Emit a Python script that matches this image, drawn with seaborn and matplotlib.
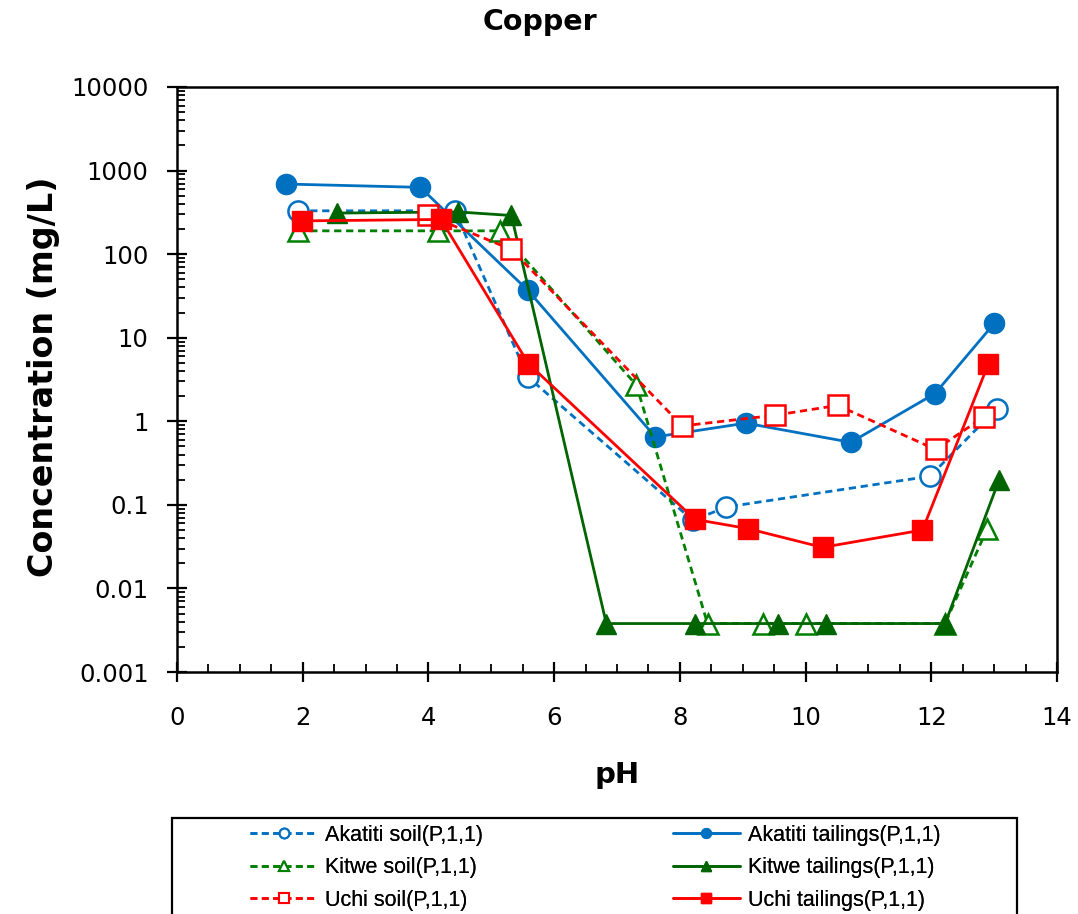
import matplotlib
matplotlib.use("Agg")
import matplotlib.pyplot as plt
import seaborn as sns
import pandas as pd
from matplotlib import font_manager
from matplotlib.lines import Line2D
from matplotlib.patches import Rectangle
from matplotlib.ticker import MultipleLocator, LogLocator, NullFormatter, FuncFormatter

# data (pH vs Cu concentration, mg/L)
ph_akatiti_soil = [1.93, 4.42, 5.58, 8.21, 8.73, 11.98, 13.04]
cu_akatiti_soil = [330, 330, 3.4, 0.065, 0.094, 0.22, 1.42]

ph_akatiti_tail = [1.73, 3.87, 5.58, 7.61, 9.05, 10.72, 12.06, 13.0]
cu_akatiti_tail = [690, 630, 37, 0.65, 0.95, 0.56, 2.15, 14.8]

ph_kitwe_soil = [1.93, 4.15, 5.14, 7.31, 8.44, 9.32, 10.01, 12.22, 12.89]
cu_kitwe_soil = [190, 190, 190, 2.7, 0.0038, 0.0038, 0.0038, 0.0038, 0.052]

ph_kitwe_tail = [2.54, 4.47, 5.32, 6.83, 8.24, 9.56, 10.33, 12.22, 13.08]
cu_kitwe_tail = [310, 320, 290, 0.0038, 0.0038, 0.0038, 0.0038, 0.0038, 0.2]

ph_uchi_soil = [4.0, 5.32, 8.04, 9.51, 10.51, 12.07, 12.84]
cu_uchi_soil = [290, 114, 0.88, 1.18, 1.55, 0.46, 1.13]

ph_uchi_tail = [1.99, 4.2, 5.59, 8.24, 9.08, 10.27, 11.86, 12.91]
cu_uchi_tail = [250, 260, 4.9, 0.067, 0.052, 0.031, 0.050, 4.9]

labels = ["Akatiti soil(P,1,1)", "Akatiti tailings(P,1,1)",
          "Kitwe soil(P,1,1)", "Kitwe tailings(P,1,1)",
          "Uchi soil(P,1,1)", "Uchi tailings(P,1,1)"]

BLUE = "#0070C0"
GREEN_S = "#008000"
GREEN_T = "#006400"
RED = "#FF0000"

# (x, y, color, marker, open marker, dashed)
series = [
    (ph_akatiti_soil, cu_akatiti_soil, BLUE, "o", True, True),
    (ph_akatiti_tail, cu_akatiti_tail, BLUE, "o", False, False),
    (ph_kitwe_soil, cu_kitwe_soil, GREEN_S, "^", True, True),
    (ph_kitwe_tail, cu_kitwe_tail, GREEN_T, "^", False, False),
    (ph_uchi_soil, cu_uchi_soil, RED, "s", True, True),
    (ph_uchi_tail, cu_uchi_tail, RED, "s", False, False),
]

sns.set_style("ticks")
plt.rcParams["font.family"] = ["DejaVu Sans"]
plt.rcParams["text.color"] = "black"
plt.rcParams["axes.labelcolor"] = "black"
plt.rcParams["xtick.color"] = "black"
plt.rcParams["ytick.color"] = "black"

W, H = 1078, 914
fig = plt.figure(figsize=(W / 100, H / 100), dpi=100)
ax = fig.add_axes([177 / W, 1 - 672 / H, 880 / W, 585 / H])
ax.set_yscale("log")

dash = (0, (2.6, 1.7))
for x, y, c, m, hollow, dashed in series:
    df = pd.DataFrame({"pH": x, "Cu": y})
    sns.lineplot(data=df, x="pH", y="Cu", ax=ax, color=c, marker=m,
                 markersize=14.5 if m != "^" else 15,
                 markerfacecolor="white" if hollow else c,
                 markeredgecolor=c, markeredgewidth=1.8 if hollow else 1,
                 linestyle=dash if dashed else "-", linewidth=2.0,
                 estimator=None, sort=False, legend=False)

ax.set_xlim(0, 14)
ax.set_ylim(1e-3, 1e4)
ax.xaxis.set_major_locator(MultipleLocator(2))
ax.xaxis.set_minor_locator(MultipleLocator(0.5))
ax.yaxis.set_major_locator(LogLocator(base=10, numticks=20))
ax.yaxis.set_minor_locator(LogLocator(base=10, subs=range(2, 10), numticks=200))
ax.yaxis.set_minor_formatter(NullFormatter())
ax.yaxis.set_major_formatter(FuncFormatter(lambda v, _: f"{v:g}"))

ax.tick_params(which="major", direction="inout", length=15, width=1.6,
               labelsize=17.5, color="black", labelcolor="black")
ax.tick_params(axis="x", which="major", pad=17)
ax.tick_params(axis="y", which="major", pad=13)
ax.tick_params(which="minor", direction="in", length=6, width=1.3, color="black")
for s in ax.spines.values():
    s.set_linewidth(1.8)
    s.set_color("black")

ax.set_xlabel("pH", fontsize=21, fontweight="bold")
ax.xaxis.set_label_coords(0.5, (672 - 783) / 585)
ax.xaxis.label.set_va("baseline")
ax.set_ylabel("Concentration (mg/L)", fontsize=24, fontweight="bold")
ax.yaxis.set_label_coords((44 - 177) / 880, (672 - 377) / 585)
ax.yaxis.label.set_va("center")

fig.text(540 / W, 1 - 30 / H, "Copper", ha="center", va="baseline",
         fontsize=20.5, fontweight="bold")

# legend: frame drawn as a rectangle running off the bottom edge
fig.add_artist(Rectangle((172 / W, -0.05), (1017 - 172) / W, 0.05 + 1 - 818 / H,
                         transform=fig.transFigure, fill=False, lw=1.6,
                         ec="black"))

names = {f.name for f in font_manager.fontManager.ttflist}
if "Liberation Sans Narrow" in names:
    leg_font = {"family": "Liberation Sans Narrow", "size": 17}
elif "Liberation Sans" in names:
    leg_font = {"family": "Liberation Sans", "size": 15.5}
else:
    leg_font = {"family": "DejaVu Sans", "size": 13.5}
fs_px = leg_font["size"] * 100 / 72

handles = []
for x, y, c, m, hollow, dashed in series:
    handles.append(Line2D([], [], color=c, lw=1.9, linestyle=dash if dashed else "-",
                          marker=m, markersize=7,
                          markerfacecolor="white" if hollow else c,
                          markeredgecolor=c, markeredgewidth=1.5 if hollow else 1))

for col, x0 in ((0, 250), (1, 673)):
    hs = handles[col::2]
    ls = labels[col::2]
    leg = fig.legend(hs, ls, loc="upper left",
                     bbox_to_anchor=(x0 / W, 1 - 825 / H),
                     frameon=False, borderpad=0, borderaxespad=0,
                     handlelength=67 / fs_px, handletextpad=8 / fs_px,
                     labelspacing=35 / fs_px - 1.1, prop=leg_font)
    fig.add_artist(leg)

fig.savefig("out.png", dpi=100)
